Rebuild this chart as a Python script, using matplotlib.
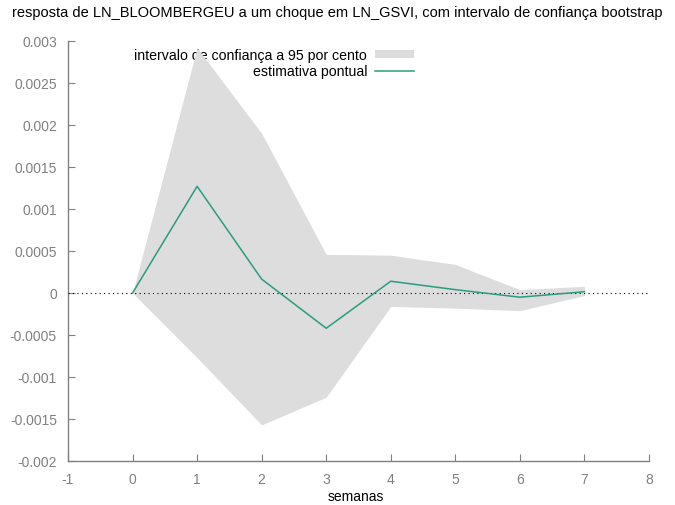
import numpy as np
import matplotlib
matplotlib.use("Agg")
import matplotlib.pyplot as plt

plt.rcParams['font.family'] = ['Liberation Sans', 'DejaVu Sans']
plt.rcParams['axes.unicode_minus'] = False

# periodos (semanas)
semanas = [0, 1, 2, 3, 4, 5, 6, 7]
# estimativa pontual da resposta
estimativa = [0.0, 0.00127, 0.000165, -0.00042, 0.00014, 0.00004, -0.00005, 0.000015]
# limites do intervalo bootstrap
lim_sup = [0.0, 0.00292, 0.0019, 0.00046, 0.00045, 0.00034, 0.00004, 0.00008]
lim_inf = [0.0, -0.00077, -0.00157, -0.00124, -0.00016, -0.00018, -0.00021, -0.00003]

xticks = list(range(-1, 9))
yticks = [-0.002, -0.0015, -0.001, -0.0005, 0, 0.0005, 0.001, 0.0015, 0.002, 0.0025, 0.003]
ylabels = ['-0.002', '-0.0015', '-0.001', '-0.0005', '0', '0.0005', '0.001',
           '0.0015', '0.002', '0.0025', '0.003']

fig = plt.figure(figsize=(6.75, 5.06), dpi=100)
ax = fig.add_axes([68/675, 44/506, 581/675, 420/506])

ax.fill_between(semanas, lim_inf, lim_sup, color='#dddddd', lw=0,
                label='intervalo de confiança a 95 por cento', zorder=3)
ax.axhline(0, color='black', lw=0.8, ls=(0, (1, 3)), zorder=3.5)
ax.plot(semanas, estimativa, color='#2a9d7f', lw=1.1, label='estimativa pontual', zorder=4)

ax.set_xlim(-1, 8)
ax.set_ylim(-0.002, 0.003)
ax.set_xticks(xticks)
ax.set_xticklabels([str(v) for v in xticks])
ax.set_yticks(yticks)
ax.set_yticklabels(ylabels)

for s in ['top', 'right']:
    ax.spines[s].set_visible(False)
for s in ['left', 'bottom']:
    ax.spines[s].set_color('#808080')
    ax.spines[s].set_linewidth(1.0)
ax.tick_params(direction='in', length=5, color='#808080', labelcolor='#808080',
               labelsize=10, pad=8)

fig.text(356/675, 1 - 497/506, 'semanas', ha='center', va='center', fontsize=10)
fig.text(0.5, 0.975, 'resposta de LN_BLOOMBERGEU a um choque em LN_GSVI, com intervalo de confiança bootstrap',
         ha='center', va='center', fontsize=10.5)

leg = ax.legend(loc='upper right', bbox_to_anchor=(0.6, 0.99), frameon=False,
                markerfirst=False, fontsize=10.2, handlelength=2.75, handleheight=0.5,
                handletextpad=0.55, labelspacing=0.15, borderaxespad=0, borderpad=0.2)
leg.set_zorder(2)

fig.savefig('out.png', dpi=100)
